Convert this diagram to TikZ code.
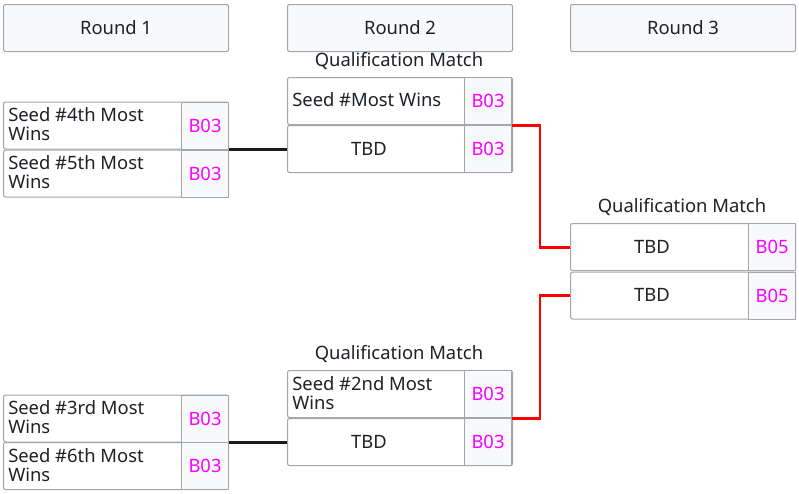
\documentclass[tikz,border=0pt]{standalone}
\usepackage{fontspec}
\setmainfont{Noto Sans}
\definecolor{bord}{HTML}{A3A7AB}
\definecolor{cellbg}{HTML}{F8F9FA}
\definecolor{txt}{HTML}{1E2125}
\definecolor{mag}{HTML}{FF00FF}
\definecolor{lineblk}{HTML}{1A1A1A}
\definecolor{linered}{HTML}{FF0000}
\tikzset{
  fnt/.style={font=\fontsize{13.8}{14.25}\selectfont},
  header/.style={draw=bord, fill=cellbg, rounded corners=1.5pt, line width=0.8pt, anchor=north west,
    minimum width=168.75pt, minimum height=35.25pt, inner sep=0pt, text=txt, fnt},
  slot/.style={draw=bord, fill=white, rounded corners=1.5pt, line width=0.8pt, anchor=north west,
    minimum width=168.75pt, minimum height=35.25pt, inner sep=0pt},
  score/.style={draw=bord, fill=cellbg, line width=0.8pt, anchor=north west,
    minimum width=35.25pt, minimum height=35.25pt, inner sep=0pt, text=mag, fnt},
  lbl/.style={anchor=west, inner sep=0pt, text=txt, align=left, fnt},
  tbd/.style={inner sep=0pt, text=txt, fnt},
  title/.style={inner sep=0pt, text=txt, fnt},
  blk/.style={draw=lineblk, line width=2.2pt},
  red/.style={draw=linered, line width=2.2pt},
}
\begin{document}
\begin{tikzpicture}[x=0.75pt,y=-0.75pt]
\useasboundingbox[fill=white] (0,0) rectangle (799,493);
% headers
\node[header] (h1) at (3,4) {Round 1};
\node[header] (h2) at (287,4) {Round 2};
\node[header] (h3) at (570,4) {Round 3};

% Round 1 match 1
\node[slot] (r1a) at (3,101.5) {};
\node[score] (r1as) at (181,101.5) {B03};
\node[lbl] (r1at) at (8,124.5) {Seed \#4th Most\\Wins};
\node[slot] (r1b) at (3,149.5) {};
\node[score] (r1bs) at (181,149.5) {B03};
\node[lbl] (r1bt) at (8,172.5) {Seed \#5th Most\\Wins};

% Round 1 match 2
\node[slot] (r1c) at (3,394.5) {};
\node[score] (r1cs) at (181,394.5) {B03};
\node[lbl] (r1ct) at (8,417) {Seed \#3rd Most\\Wins};
\node[slot] (r1d) at (3,442) {};
\node[score] (r1ds) at (181,442) {B03};
\node[lbl] (r1dt) at (8,465.5) {Seed \#6th Most\\Wins};

% Round 2 match 1
\node[title] (q1) at (399,61) {Qualification Match};
\node[slot] (r2a) at (287,77) {};
\node[score] (r2as) at (464,77) {B03};
\node[lbl] (r2at) at (292,100) {Seed \#Most Wins};
\node[slot] (r2b) at (287,125) {};
\node[score] (r2bs) at (464,125) {B03};
\node[tbd] (r2bt) at (369,148.5) {TBD};

% Round 2 match 2
\node[title] (q2) at (399,354) {Qualification Match};
\node[slot] (r2c) at (287,370) {};
\node[score] (r2cs) at (464,370) {B03};
\node[lbl] (r2ct) at (292,393) {Seed \#2nd Most\\Wins};
\node[slot] (r2d) at (287,418) {};
\node[score] (r2ds) at (464,418) {B03};
\node[tbd] (r2dt) at (369,441.5) {TBD};

% Round 3
\node[title] (q3) at (682,207) {Qualification Match};
\node[slot] (r3a) at (570,223) {};
\node[score] (r3as) at (748,223) {B05};
\node[tbd] (r3at) at (652,246.5) {TBD};
\node[slot] (r3b) at (570,271.5) {};
\node[score] (r3bs) at (748,271.5) {B05};
\node[tbd] (r3bt) at (652,295) {TBD};

% connectors
\coordinate (j) at (540,0);
\draw[blk] (r2b.west) -- (r2b.west -| r1as.east);
\draw[blk] (r2d.west) -- (r2d.west -| r1cs.east);
\draw[red] (r2as.south east) -| (j |- r3a.west) -- (r3a.west);
\draw[red] (r2cs.south east) -| (j |- r3b.west) -- (r3b.west);
\end{tikzpicture}
\end{document}
